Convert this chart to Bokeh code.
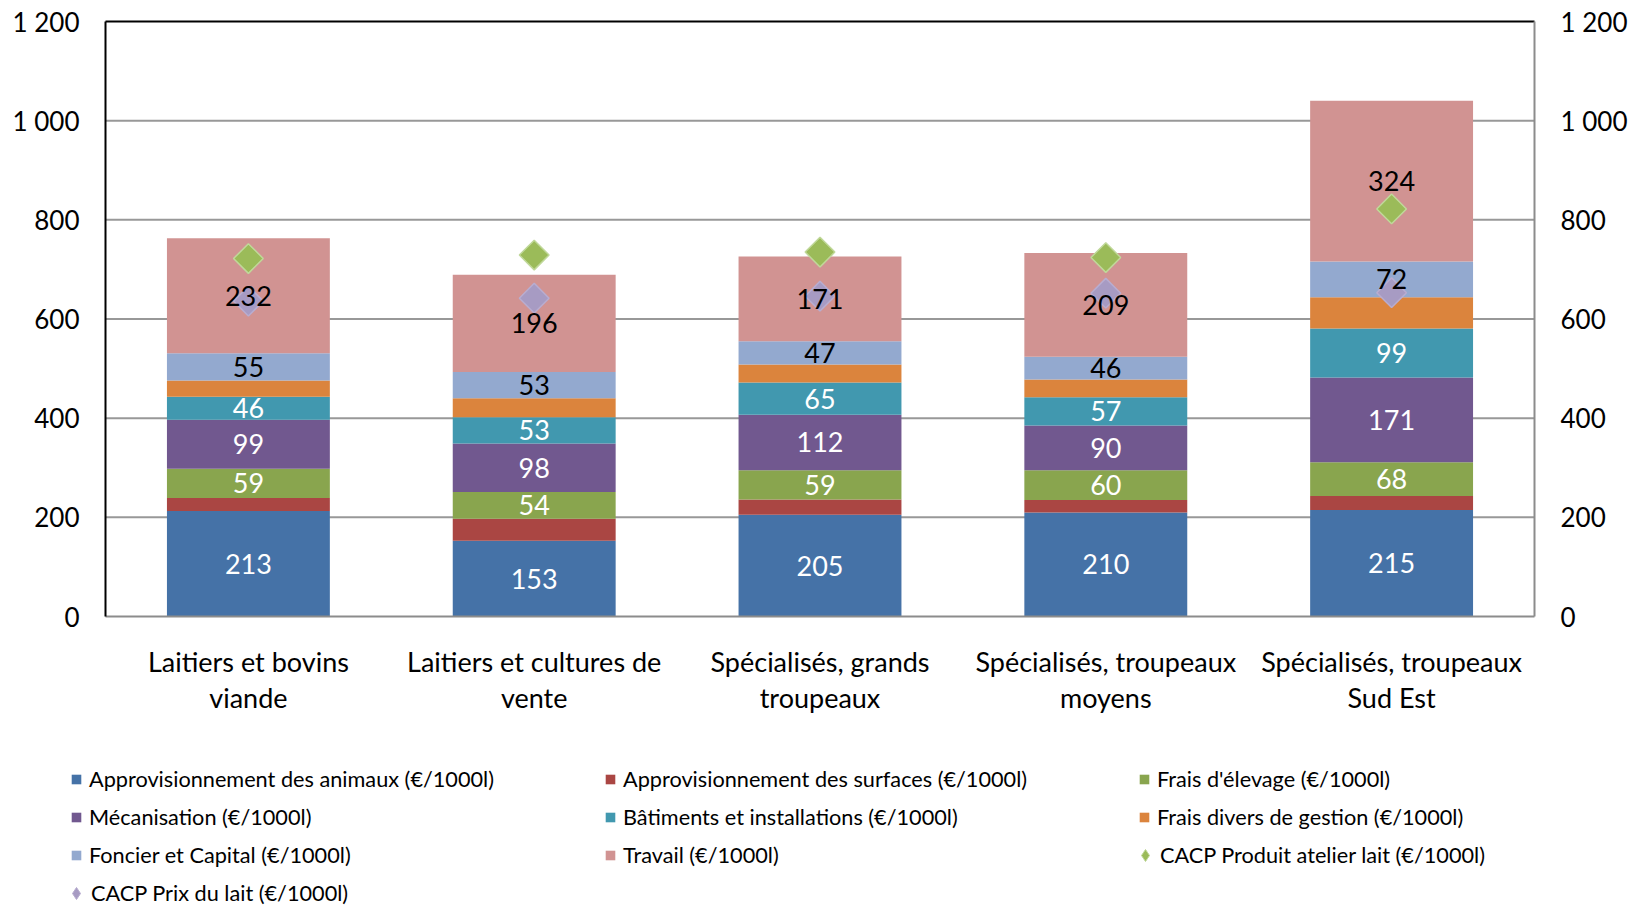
import numpy as np
from bokeh.plotting import figure
from bokeh.models import (ColumnDataSource, LinearAxis, FixedTicker, Legend, LegendItem, Range1d)
from bokeh.core.properties import value
from bokeh.embed import file_html
from bokeh.resources import INLINE

# ---------------- data ----------------
categories = ["Laitiers et bovins viande", "Laitiers et cultures de vente",
              "Spécialisés, grands troupeaux", "Spécialisés, troupeaux moyens",
              "Spécialisés, troupeaux Sud Est"]
category_line1 = ["Laitiers et bovins", "Laitiers et cultures de", "Spécialisés, grands",
                  "Spécialisés, troupeaux", "Spécialisés, troupeaux"]
category_line2 = ["viande", "vente", "troupeaux", "moyens", "Sud Est"]

appro_animaux = [213, 153, 205, 210, 215]
appro_surfaces = [26, 44, 31, 25, 28]
frais_elevage = [59, 54, 59, 60, 68]
mecanisation = [99, 98, 112, 90, 171]
batiments = [46, 53, 65, 57, 99]
frais_divers = [33, 38, 36, 36, 63]
foncier = [55, 53, 47, 46, 72]
travail = [232, 196, 171, 209, 324]
produit_lait = [722, 729, 735, 724, 822]
prix_lait = [636, 642, 646, 652, 653]

series_names = ["Approvisionnement des animaux (€/1000l)",
                "Approvisionnement des surfaces (€/1000l)",
                "Frais d'élevage (€/1000l)",
                "Mécanisation (€/1000l)",
                "Bâtiments et installations (€/1000l)",
                "Frais divers de gestion (€/1000l)",
                "Foncier et Capital (€/1000l)",
                "Travail (€/1000l)"]
marker_names = ["CACP Produit atelier lait (€/1000l)", "CACP Prix du lait (€/1000l)"]

y_ticks = [0, 200, 400, 600, 800, 1000, 1200]
y_tick_labels = ["0", "200", "400", "600", "800", "1 000", "1 200"]

# ---------------- styles / layout ----------------
colors = ["#4572A7", "#AA4643", "#89A54E", "#71588F", "#4198AF", "#DB843D", "#93A9CF", "#D19392"]
label_colors = ["white", None, "white", "white", "white", None, "black", "black"]
prod_fill, prod_line = "#9BBB59", "#C0D89A"
prix_fill, prix_line = "#A79BC3", "#B8ADD0"
FONT = "Lato"

W, H = 1640, 906
PLOT_LEFT, PLOT_RIGHT, PLOT_TOP, PLOT_BOTTOM = 105, 1534, 21, 616   # canvas pixels
n = len(categories)
px_per_cat = (PLOT_RIGHT - PLOT_LEFT) / n
y_min, y_max = y_ticks[0], y_ticks[-1]
px_per_unit = (PLOT_BOTTOM - PLOT_TOP) / (y_max - y_min)

x_pos = [i + 0.5 for i in range(n)]

series = [appro_animaux, appro_surfaces, frais_elevage, mecanisation,
          batiments, frais_divers, foncier, travail]
keys = ["s%d" % i for i in range(len(series))]
data = {"x": x_pos}
for k, s in zip(keys, series):
    data[k] = s
source = ColumnDataSource(data)

p = figure(x_range=Range1d(-PLOT_LEFT / px_per_cat, (W - PLOT_LEFT) / px_per_cat),
           y_range=Range1d(y_min - (H - PLOT_BOTTOM) / px_per_unit,
                           y_max + PLOT_TOP / px_per_unit),
           width=W, height=H, output_backend="svg", toolbar_location=None,
           x_axis_location=None, y_axis_location=None,
           min_border=0)
p.outline_line_color = None
p.background_fill_color = "white"
p.border_fill_color = "white"
p.xgrid.visible = False
p.ygrid.visible = False

# grid lines (between the two axes only)
grid_vals = y_ticks[1:-1]
p.segment(x0=[0] * len(grid_vals), x1=[n] * len(grid_vals), y0=grid_vals, y1=grid_vals,
          line_color="#989898", line_width=2)

renderers = p.vbar_stack(keys, x="x", width=0.57, color=colors, line_color=None,
                         source=source)

# top border and bottom axis line
p.segment(x0=[0], x1=[n], y0=[y_max], y1=[y_max], line_color="black", line_width=2)
p.segment(x0=[0], x1=[n], y0=[y_min], y1=[y_min], line_color="#8C8C8C", line_width=2)

# legend swatches for the markers (diamond shape, zero size in the plot itself)
leg_prod = p.scatter(x=x_pos, y=produit_lait, marker="diamond", size=0,
                     fill_color=prod_fill, line_color=prod_line, line_width=1)
leg_prix = p.scatter(x=x_pos, y=prix_lait, marker="diamond", size=0,
                     fill_color=prix_fill, line_color=prix_line, line_width=1)

# markers
p.scatter(x=x_pos, y=produit_lait, marker="square", size=21, angle=np.pi / 4,
          fill_color=prod_fill, line_color=prod_line, line_width=1.5)
p.scatter(x=x_pos, y=prix_lait, marker="square", size=21, angle=np.pi / 4,
          fill_color=prix_fill, line_color=prix_line, line_width=1.5)

# data labels
lx, ly, lt, lc = [], [], [], []
base = np.zeros(n)
for s, c in zip(series, label_colors):
    arr = np.array(s, dtype=float)
    if c is not None:
        for i in range(n):
            lx.append(x_pos[i])
            ly.append(base[i] + arr[i] / 2)
            lt.append(str(s[i]))
            lc.append(c)
    base = base + arr
lsrc = ColumnDataSource(dict(x=lx, y=ly, t=lt, c=lc))
p.text(x="x", y="y", text="t", text_color="c", source=lsrc, text_align="center",
       text_baseline="middle", text_font=value(FONT), text_font_size="27px")

# category labels (two lines)
p.text(x=x_pos, y=[y_min] * n, text=category_line1, y_offset=45, text_align="center",
       text_baseline="middle", text_font=value(FONT), text_font_size="27px",
       text_color="black")
p.text(x=x_pos, y=[y_min] * n, text=category_line2, y_offset=81, text_align="center",
       text_baseline="middle", text_font=value(FONT), text_font_size="27px",
       text_color="black")


def style_y(ax, color, standoff):
    ax.ticker = FixedTicker(ticks=y_ticks)
    ax.bounds = (y_min, y_max)
    ax.major_label_overrides = dict(zip(y_ticks, y_tick_labels))
    ax.axis_line_color = color
    ax.axis_line_width = 2
    ax.major_tick_line_color = None
    ax.minor_tick_line_color = None
    ax.major_tick_out = 0
    ax.major_tick_in = 0
    ax.major_label_standoff = standoff
    ax.major_label_text_font = FONT
    ax.major_label_text_font_size = "26px"
    ax.major_label_text_color = "black"


ly_ax = LinearAxis(fixed_location=0)
style_y(ly_ax, "black", 26)
p.add_layout(ly_ax, "left")
ry_ax = LinearAxis(fixed_location=n)
style_y(ry_ax, "#8C8C8C", 26)
p.add_layout(ry_ax, "right")

# legend
ROW_H = 38
ROW1_CENTER = 779
common = dict(orientation="horizontal", padding=0, margin=0, spacing=0,
              label_height=ROW_H, label_text_font=FONT, label_text_font_size="21.7px",
              label_text_color="black", border_line_color=None, background_fill_alpha=0)

bar_items = [LegendItem(label=nm, renderers=[r]) for nm, r in zip(series_names, renderers)]
legend_bars = Legend(items=bar_items, ncols=3,
                     location=(70, H - (ROW1_CENTER - ROW_H / 2 + 3 * ROW_H)),
                     glyph_width=12, glyph_height=12, label_standoff=7, label_width=515,
                     **common)
p.add_layout(legend_bars, "center")

legend_prod = Legend(items=[LegendItem(label=marker_names[0], renderers=[leg_prod], index=0)],
                     location=(1130, H - (ROW1_CENTER - ROW_H / 2 + 3 * ROW_H)),
                     glyph_width=30, glyph_height=30, label_standoff=0, **common)
p.add_layout(legend_prod, "center")

legend_prix = Legend(items=[LegendItem(label=marker_names[1], renderers=[leg_prix], index=0)],
                     location=(61, H - (ROW1_CENTER - ROW_H / 2 + 4 * ROW_H)),
                     glyph_width=30, glyph_height=30, label_standoff=0, **common)
p.add_layout(legend_prix, "center")

open("out.html", "w").write(file_html(p, INLINE))
